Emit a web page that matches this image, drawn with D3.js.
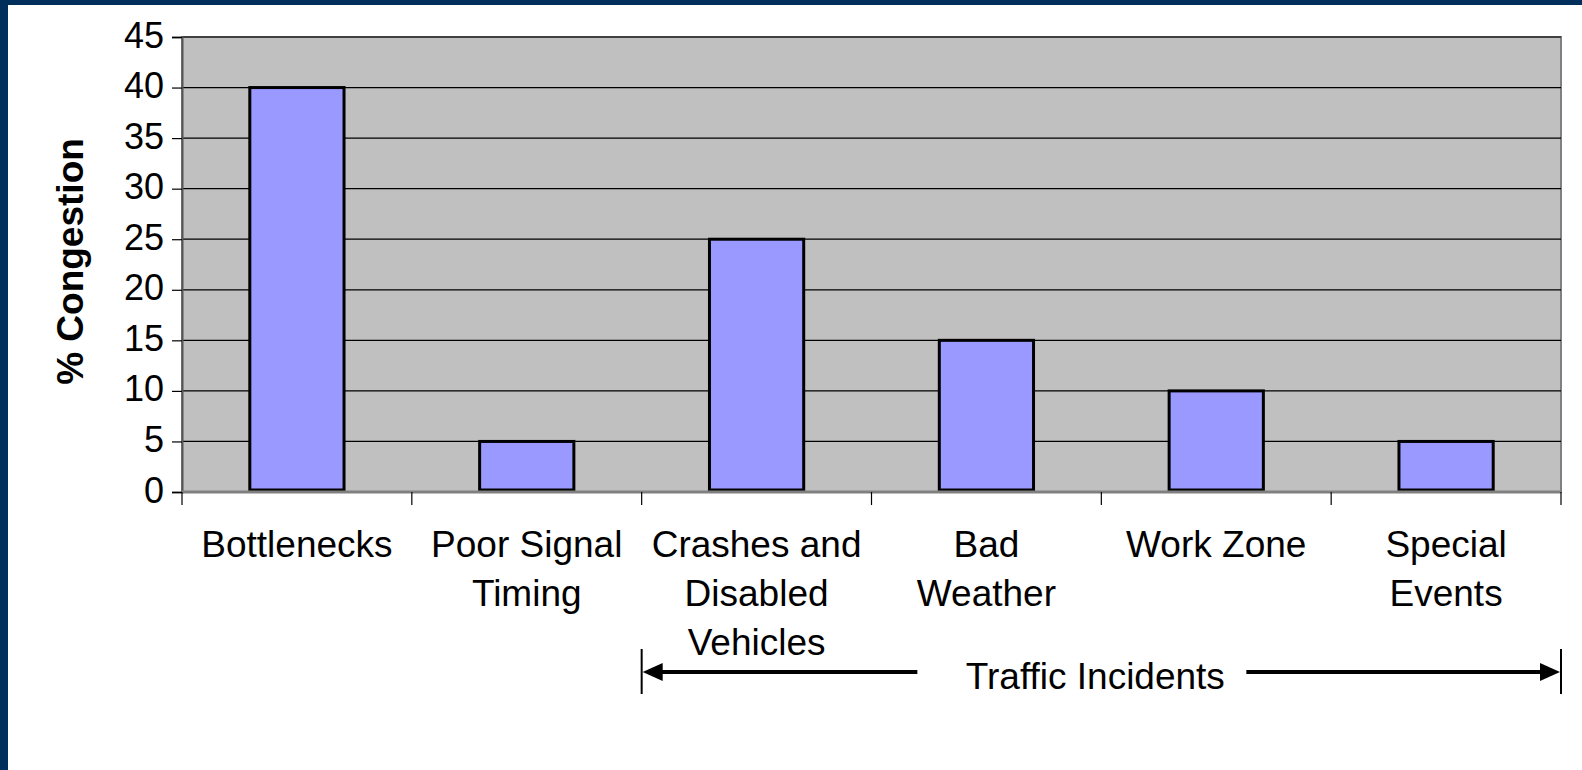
<!DOCTYPE html>
<html>
<head>
<meta charset="utf-8">
<script src="https://cdn.jsdelivr.net/npm/d3@7"></script>
<style>
  body { margin: 0; background: #fff; }
  text { font-family: "Liberation Sans", Arial, sans-serif; fill: #000; }
</style>
</head>
<body>
<div id="chart"></div>
<script>
var categories = [["Bottlenecks"], ["Poor Signal", "Timing"], ["Crashes and", "Disabled", "Vehicles"], ["Bad", "Weather"], ["Work Zone"], ["Special", "Events"]];
var values = [40, 5, 25, 15, 10, 5];
var yTicks = [0, 5, 10, 15, 20, 25, 30, 35, 40, 45];
var groupLabel = "Traffic Incidents";
var groupStart = 2; // first category of the traffic incidents group

var width = 1582, height = 770;
var margin = { top: 37, right: 21, bottom: 278, left: 182 };
var innerW = width - margin.left - margin.right,
    innerH = height - margin.top - margin.bottom;

var svg = d3.select("#chart").append("svg").attr("width", width).attr("height", height);

// navy frame strips
svg.append("rect").attr("x", 0).attr("y", 0).attr("width", 8).attr("height", height).attr("fill", "#002f5b");
svg.append("rect").attr("x", 0).attr("y", 0).attr("width", width).attr("height", 5).attr("fill", "#002f5b");

var g = svg.append("g").attr("transform", "translate(" + margin.left + "," + margin.top + ")");

var x = d3.scaleBand().domain(d3.range(categories.length)).range([0, innerW]).padding(0);
var y = d3.scaleLinear().domain([0, 45]).range([innerH, 0]);

// plot area
g.append("rect").attr("width", innerW).attr("height", innerH)
    .attr("fill", "#c0c0c0").attr("stroke", "#808080").attr("stroke-width", 2);

// gridlines
g.selectAll(".grid").data(yTicks.filter(function(d) { return d > 0; })).enter().append("line")
    .attr("x1", 0).attr("x2", innerW)
    .attr("y1", function(d) { return y(d); }).attr("y2", function(d) { return y(d); })
    .attr("stroke", "#000").attr("stroke-width", 1.2);

// y axis
var yAxis = g.append("g").call(d3.axisLeft(y).tickValues(yTicks).tickSize(10).tickPadding(8));
yAxis.select(".domain").attr("stroke", "#555").attr("stroke-width", 2);
yAxis.selectAll(".tick line").attr("stroke", "#000").attr("stroke-width", 1.2);
yAxis.selectAll(".tick text").attr("font-size", 36).attr("font-family", "Liberation Sans, Arial, sans-serif").attr("fill", "#000").attr("dy", "0.28em");

// bars
var barW = x.bandwidth() * 0.41;
g.selectAll(".bar").data(values).enter().append("rect")
    .attr("x", function(d, i) { return x(i) + (x.bandwidth() - barW) / 2; })
    .attr("y", function(d) { return y(d); })
    .attr("width", barW)
    .attr("height", function(d) { return innerH - y(d) - 2; })
    .attr("fill", "#9999ff").attr("stroke", "#000").attr("stroke-width", 3);

// x axis line and category boundary ticks
g.append("line").attr("x1", 0).attr("x2", innerW).attr("y1", innerH).attr("y2", innerH)
    .attr("stroke", "#808080").attr("stroke-width", 3);
var bounds = d3.range(categories.length + 1).map(function(i) { return i * x.step(); });
g.selectAll(".xtick").data(bounds).enter().append("line")
    .attr("x1", function(d) { return d; }).attr("x2", function(d) { return d; })
    .attr("y1", innerH).attr("y2", innerH + 13)
    .attr("stroke", "#000").attr("stroke-width", 1.2);

// category labels
var labels = g.selectAll(".xlabel").data(categories).enter().append("text")
    .attr("text-anchor", "middle").attr("font-size", 37)
    .attr("x", function(d, i) { return x(i) + x.bandwidth() / 2; });
labels.selectAll("tspan").data(function(d) { return d; }).enter().append("tspan")
    .attr("x", function() { return d3.select(this.parentNode).attr("x"); })
    .attr("y", function(d, j) { return innerH + 65 + j * 49; })
    .text(function(d) { return d; });

// y axis title
svg.append("text").attr("transform", "translate(83," + (margin.top + innerH / 2 - 3) + ") rotate(-90)")
    .attr("text-anchor", "middle").attr("font-size", 37).attr("font-weight", "bold")
    .text("% Congestion");

// traffic incidents bracket
var gx0 = x(groupStart), gx1 = innerW, gy = innerH + 180;
var labelX = (gx0 + gx1) / 2 - 6;
g.append("text").attr("x", labelX).attr("y", gy + 17).attr("text-anchor", "middle")
    .attr("font-size", 37).text(groupLabel);
[gx0, gx1].forEach(function(px) {
    g.append("line").attr("x1", px).attr("x2", px).attr("y1", gy - 23).attr("y2", gy + 22)
        .attr("stroke", "#000").attr("stroke-width", 2);
});
g.append("line").attr("x1", gx0 + 15).attr("x2", labelX - 178).attr("y1", gy).attr("y2", gy)
    .attr("stroke", "#000").attr("stroke-width", 4);
g.append("line").attr("x1", labelX + 151).attr("x2", gx1 - 15).attr("y1", gy).attr("y2", gy)
    .attr("stroke", "#000").attr("stroke-width", 4);
g.append("path").attr("d", "M" + (gx0 + 1) + "," + gy + "L" + (gx0 + 21) + "," + (gy - 9) + "L" + (gx0 + 21) + "," + (gy + 9) + "Z")
    .attr("fill", "#000");
g.append("path").attr("d", "M" + (gx1 - 1) + "," + gy + "L" + (gx1 - 21) + "," + (gy - 9) + "L" + (gx1 - 21) + "," + (gy + 9) + "Z")
    .attr("fill", "#000");
</script>
</body>
</html>
